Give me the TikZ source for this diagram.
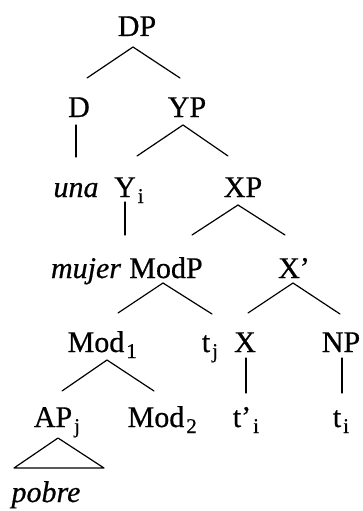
\documentclass[tikz,border=0pt]{standalone}
\usepackage{fontspec}
\setmainfont{Liberation Serif}[FakeBold=0.6]
\begin{document}
\begin{tikzpicture}[x=1pt,y=-1pt,
  lab/.style={anchor=base,inner sep=0pt,font=\fontsize{30}{36}\selectfont},
  ital/.style={lab,font=\fontsize{30}{36}\selectfont\itshape},
  edge/.style={line width=1.2pt,line cap=round}]
\useasboundingbox (0,0) rectangle (362,511);
\newcommand\sbs[1]{\rlap{\kern2pt\raisebox{-6pt}{\fontsize{21}{22}\selectfont #1}}}
% nodes
\node[lab] (DP) at (137,36) {DP};
\node[lab] (D) at (79,117) {D};
\node[lab] (YP) at (187,117) {YP};
\node[ital] (una) at (76,197) {una};
\node[lab] (Y) at (125,197) {Y\sbs{i}};
\node[lab] (XP) at (243,197) {XP};
\node[ital] (mujer) at (86,278) {mujer};
\node[lab] (ModP) at (166,278) {ModP};
\node[lab] (Xbar) at (294,278) {X’};
\node[lab] (Modone) at (96,352) {Mod\sbs{1}};
\node[lab] (tj) at (206,352) {t\sbs{j}};
\node[lab] (X) at (245,352) {X};
\node[lab] (NP) at (341,352) {NP};
\node[lab] (AP) at (53,427) {AP\sbs{j}};
\node[lab] (Modtwo) at (156,427) {Mod\sbs{2}};
\node[lab] (tpi) at (242,427) {t’\sbs{i}};
\node[lab] (ti) at (337,427) {t\sbs{i}};
\node[ital] (pobre) at (46,502) {pobre};
% connectors
\draw[edge] ([shift={(-4,11)}]DP.base) -- ([shift={(8,-39)}]D.base);
\draw[edge] ([shift={(-4,11)}]DP.base) -- ([shift={(-7,-39)}]YP.base);
\draw[edge] ([shift={(-3,8)}]D.base) -- ([shift={(0,-40)}]una.base);
\draw[edge] ([shift={(-4,8)}]YP.base) -- ([shift={(12,-41)}]Y.base);
\draw[edge] ([shift={(-4,8)}]YP.base) -- ([shift={(-15,-41)}]XP.base);
\draw[edge] ([shift={(0,5)}]Y.base) -- ([shift={(39,-43)}]mujer.base);
\draw[edge] ([shift={(-5,8)}]XP.base) -- ([shift={(26,-43)}]ModP.base);
\draw[edge] ([shift={(-5,8)}]XP.base) -- ([shift={(-9,-43)}]Xbar.base);
\draw[edge] ([shift={(-3,5)}]ModP.base) -- ([shift={(22,-39)}]Modone.base);
\draw[edge] ([shift={(-3,5)}]ModP.base) -- ([shift={(6,-38)}]tj.base);
\draw[edge] ([shift={(-1,5)}]Xbar.base) -- ([shift={(3,-39)}]X.base);
\draw[edge] ([shift={(-1,5)}]Xbar.base) -- ([shift={(-1,-38)}]NP.base);
\draw[edge] ([shift={(11,8)}]Modone.base) -- ([shift={(9,-36)}]AP.base);
\draw[edge] ([shift={(11,8)}]Modone.base) -- ([shift={(-2,-36)}]Modtwo.base);
\draw[edge] ([shift={(1,6)}]X.base) -- ([shift={(4,-34)}]tpi.base);
\draw[edge] ([shift={(1,6)}]NP.base) -- ([shift={(5,-34)}]ti.base);
\draw[edge,line join=round] ([shift={(5,11)}]AP.base) -- ([shift={(-32,-34)}]pobre.base) -- ([shift={(58,-34)}]pobre.base) -- cycle;
\end{tikzpicture}
\end{document}
